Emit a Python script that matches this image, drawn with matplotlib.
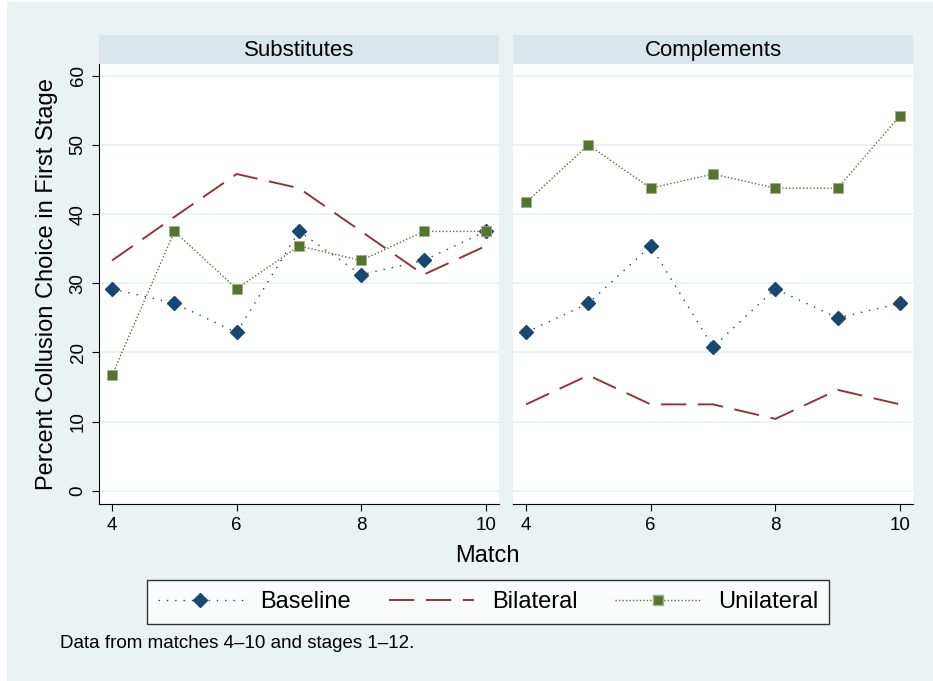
import matplotlib.pyplot as plt
from matplotlib.lines import Line2D
from matplotlib.patches import Rectangle

plt.rcParams['font.family'] = ['Liberation Sans', 'DejaVu Sans']

matches = [4, 5, 6, 7, 8, 9, 10]
panels = ['Substitutes', 'Complements']

# Substitutes
sub_baseline = [29.2, 27.1, 22.9, 37.5, 31.25, 33.3, 37.5]
sub_bilateral = [33.3, 39.6, 45.8, 43.75, 37.5, 31.25, 35.4]
sub_unilateral = [16.7, 37.5, 29.2, 35.4, 33.3, 37.5, 37.5]

# Complements
comp_baseline = [22.9, 27.1, 35.4, 20.8, 29.2, 25.0, 27.1]
comp_bilateral = [12.5, 16.7, 12.5, 12.5, 10.4, 14.6, 12.5]
comp_unilateral = [41.7, 50.0, 43.75, 45.8, 43.75, 43.75, 54.2]

data = {
    'Substitutes': (sub_baseline, sub_bilateral, sub_unilateral),
    'Complements': (comp_baseline, comp_bilateral, comp_unilateral),
}

bg = '#EAF2F3'
strip_col = '#D9E6EB'
grid_col = '#EAF2F3'
c_base = '#1A476F'
c_bil = '#90353B'
c_uni = '#55752F'

ls_base = (0, (1, 5))
ls_bil = (0, (13, 6))
ls_uni = (0, (1, 1.5))

W, H = 933, 681
fig = plt.figure(figsize=(W / 100, H / 100), dpi=100, facecolor='white')


def box(x0, y0, x1, y1):
    # pixel coords (top-left origin) -> figure fraction
    return [x0 / W, 1 - y1 / H, (x1 - x0) / W, (y1 - y0) / H]


# graph region (white margin on left/top like the original export)
fig.patches.append(Rectangle((7 / W, 0), 1 - 7 / W, 1 - 2 / H,
                             transform=fig.transFigure, facecolor=bg,
                             edgecolor='none', zorder=-10))

lefts = [99, 513]
for i, name in enumerate(panels):
    x0 = lefts[i]
    ax = fig.add_axes(box(x0, 64, x0 + 400, 504))
    ax.set_facecolor('white')
    base, bil, uni = data[name]
    ax.plot(matches, base, color=c_base, ls=ls_base, lw=1.0,
            marker='D', ms=7, mfc=c_base, mec=c_base, zorder=3)
    ax.plot(matches, bil, color=c_bil, ls=ls_bil, lw=1.4, zorder=3)
    ax.plot(matches, uni, color=c_uni, ls=ls_uni, lw=1.0,
            marker='s', ms=7, mfc=c_uni, mec='#9DB08A', mew=0.6, zorder=3)

    ax.set_xlim(3.79, 10.21)
    ax.set_ylim(-1.9, 61.7)
    ax.set_xticks([4, 6, 8, 10])
    ax.set_yticks([0, 10, 20, 30, 40, 50, 60])
    ax.grid(axis='y', color=grid_col, lw=1.3)
    ax.set_axisbelow(True)
    for s in ['top', 'right']:
        ax.spines[s].set_visible(False)
    ax.spines['bottom'].set_color('black')
    ax.tick_params(axis='x', labelsize=13.5, length=5, direction='out', pad=4)
    if i == 0:
        ax.tick_params(axis='y', labelsize=13.5, length=5, direction='out', pad=4)
        for lab in ax.get_yticklabels():
            lab.set_rotation(90)
            lab.set_va('center')
        ax.set_ylabel('Percent Collusion Choice in First Stage', fontsize=17, labelpad=8)
    else:
        ax.spines['left'].set_visible(False)
        ax.tick_params(axis='y', left=False, labelleft=False)

    sax = fig.add_axes(box(x0, 35, x0 + 400, 64))
    sax.set_facecolor(strip_col)
    sax.set_xticks([])
    sax.set_yticks([])
    for s in sax.spines.values():
        s.set_visible(False)
    sax.text(0.5, 0.45, name, ha='center', va='center', fontsize=16,
             transform=sax.transAxes)

fig.text(487 / W, 1 - 556 / H, 'Match', ha='center', va='center', fontsize=17)

handles = [
    Line2D([], [], color=c_base, ls=ls_base, lw=1.0, marker='D', ms=7,
           mfc=c_base, mec=c_base),
    Line2D([], [], color=c_bil, ls=ls_bil, lw=1.4),
    Line2D([], [], color=c_uni, ls=ls_uni, lw=1.0, marker='s', ms=7,
           mfc=c_uni, mec='#9DB08A'),
]
leg = fig.legend(handles, ['Baseline', 'Bilateral', 'Unilateral'], ncol=3,
                 loc='center', bbox_to_anchor=(488 / W, 1 - 602 / H),
                 fontsize=17, frameon=True, fancybox=False, edgecolor='black',
                 handlelength=3.6, columnspacing=1.6, handletextpad=0.75,
                 borderpad=0.45)
leg.get_frame().set_linewidth(1.0)

fig.text(60 / W, 1 - 643 / H, 'Data from matches 4\u201310 and stages 1\u201312.',
         ha='left', va='center', fontsize=13.5)

fig.savefig('out.png', dpi=100, facecolor='white')
